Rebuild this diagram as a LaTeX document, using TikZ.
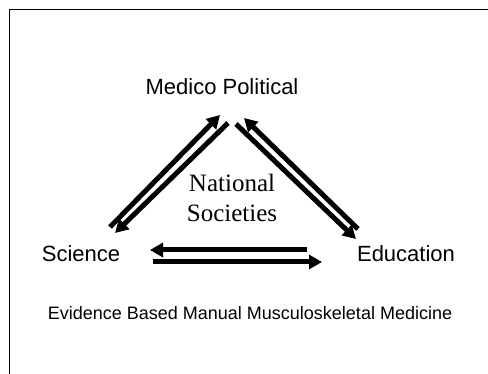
\documentclass[tikz,border=0pt]{standalone}
\usepackage{fontspec}
\setmainfont{Liberation Sans}
\newfontfamily\seriffont{Liberation Serif}
\usetikzlibrary{arrows.meta}
\begin{document}
\begin{tikzpicture}[x=1pt,y=-1pt,
  lbl/.style={inner sep=0pt,font=\fontsize{22}{24}\selectfont},
  fat/.style={line width=5pt,-{Triangle[length=13pt,width=14pt]}}]
\useasboundingbox (0,0) rectangle (488,374);
\fill[white] (0,0) rectangle (488,374);
\draw[line width=1pt] (9,374) -- (9,10) -- (488,10);
\node[lbl] (mp) at (222,87) {Medico Political};
\node[lbl] (sci) at (81,254) {Science};
\node[lbl] (edu) at (406,254) {Education};
\node[inner sep=0pt,align=center,font=\seriffont\fontsize{25}{30}\selectfont] (ns) at (232,198) {National\\Societies};
\node[inner sep=0pt,font=\fontsize{18}{20}\selectfont] (ev) at (250,313) {Evidence Based Manual Musculoskeletal Medicine};
\coordinate (a1s) at (110,227); \coordinate (a1e) at (220,115);
\coordinate (a2s) at (228,123); \coordinate (a2e) at (115,233);
\coordinate (a3s) at (358,229); \coordinate (a3e) at (244,118);
\coordinate (a4s) at (236,124); \coordinate (a4e) at (356,239);
\coordinate (a5s) at (307,250); \coordinate (a5e) at (150,250);
\coordinate (a6s) at (153,262); \coordinate (a6e) at (322,262);
\draw[fat] (a1s) -- (a1e);
\draw[fat] (a2s) -- (a2e);
\draw[fat] (a3s) -- (a3e);
\draw[fat] (a4s) -- (a4e);
\draw[fat] (a5s) -- (a5e);
\draw[fat] (a6s) -- (a6e);
\end{tikzpicture}
\end{document}
